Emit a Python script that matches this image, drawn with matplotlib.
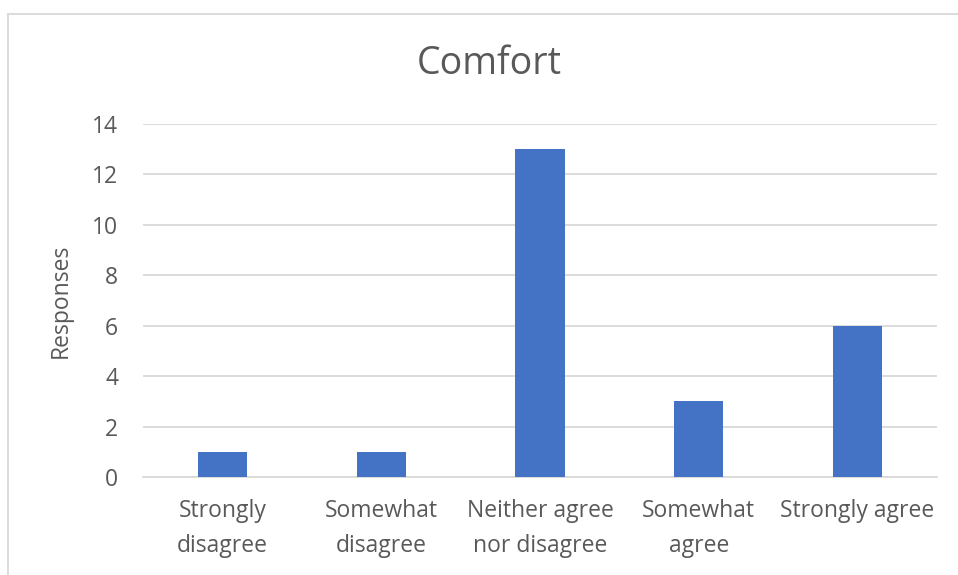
import matplotlib
matplotlib.use("Agg")
import matplotlib.pyplot as plt
from matplotlib.lines import Line2D

categories = ["Strongly\ndisagree", "Somewhat\ndisagree", "Neither agree\nnor disagree",
              "Somewhat\nagree", "Strongly agree"]
responses = [1, 1, 13, 3, 6]
y_ticks = [0, 2, 4, 6, 8, 10, 12, 14]

plt.rcParams["font.family"] = ["Open Sans", "DejaVu Sans"]
text_color = "#595959"
grid_color = "#d9d9d9"
bar_color = "#4472c4"

W, H = 958, 575
fig = plt.figure(figsize=(W / 100, H / 100), dpi=100)
fig.patch.set_facecolor("white")

ax = fig.add_axes([143 / W, 1 - 477 / H, (937 - 143) / W, (477 - 124) / H])
x = list(range(len(categories)))
ax.bar(x, responses, width=0.31, color=bar_color, zorder=3)
ax.set_xlim(-0.5, len(categories) - 0.5)
ax.set_ylim(0, 14)
ax.set_yticks(y_ticks)
ax.set_yticklabels([str(v) for v in y_ticks])
ax.set_xticks(x)
ax.set_xticklabels(categories, linespacing=1.6)
ax.grid(axis="y", color=grid_color, linewidth=1.3, zorder=0)
for side in ("top", "right", "left"):
    ax.spines[side].set_visible(False)
ax.spines["bottom"].set_color(grid_color)
ax.spines["bottom"].set_linewidth(1.3)
ax.tick_params(axis="both", length=0, colors=text_color, labelsize=16.5)
ax.tick_params(axis="y", pad=18)
ax.tick_params(axis="x", pad=16)
ax.set_ylabel("Responses", color=text_color, fontsize=16.5, labelpad=14)

fig.text(489 / W, 1 - 64 / H, "Comfort", ha="center", va="center",
         color=text_color, fontsize=27)

# chart frame
fig.add_artist(Line2D([8 / W, 1.0], [1 - 14 / H, 1 - 14 / H], transform=fig.transFigure,
                      color=grid_color, linewidth=1.3))
fig.add_artist(Line2D([8 / W, 8 / W], [1 - 14 / H, 0.0], transform=fig.transFigure,
                      color=grid_color, linewidth=1.3))

fig.savefig("out.png", dpi=100, facecolor="white")
